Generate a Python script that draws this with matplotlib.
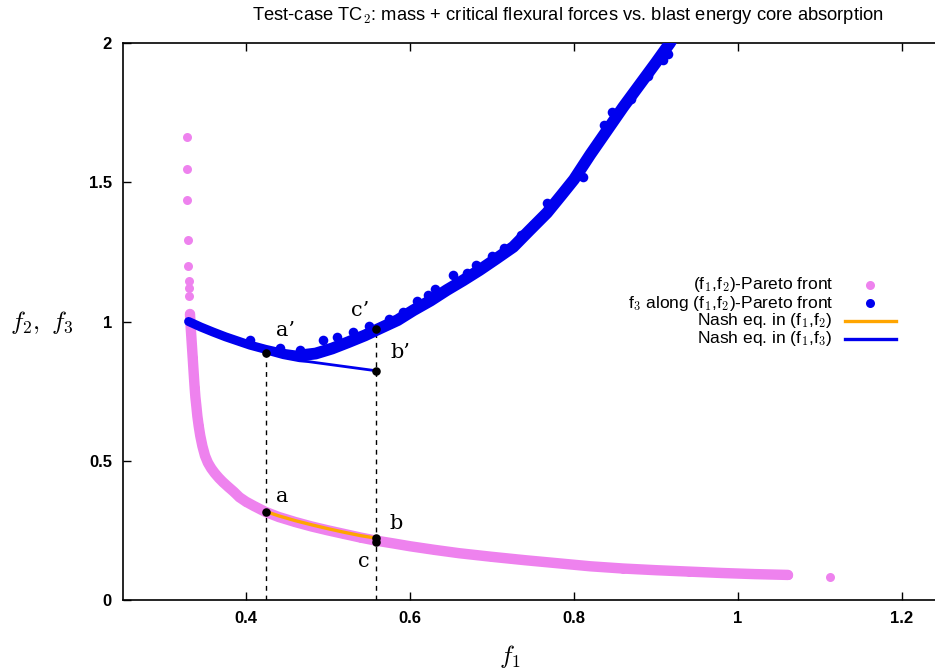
import matplotlib
matplotlib.use("Agg")
import matplotlib.pyplot as plt

plt.rcParams['mathtext.fontset'] = 'cm'
SANS = ['Liberation Sans', 'DejaVu Sans']

# ---------------- data ----------------
# (f1, f2)-Pareto front
pareto_f1 = [0.3277, 0.3280, 0.3284, 0.3290, 0.3296, 0.3300, 0.3305, 0.3310,
             0.3317, 0.3326, 0.3334, 0.3342, 0.3350, 0.3358, 0.3366, 0.3374,
             0.3383, 0.3395, 0.3407, 0.3423, 0.3442, 0.3468, 0.3500, 0.3535,
             0.3575, 0.362, 0.367, 0.372, 0.378, 0.385, 0.392, 0.400, 0.410,
             0.424, 0.440, 0.460, 0.480, 0.500, 0.520, 0.540, 0.559, 0.580,
             0.600, 0.630, 0.660, 0.700, 0.740, 0.780, 0.820, 0.860, 0.900,
             0.940, 0.980, 1.020, 1.061, 1.112]
pareto_f2 = [1.662, 1.548, 1.436, 1.291, 1.198, 1.147, 1.120, 1.090,
             1.027, 0.978, 0.942, 0.906, 0.870, 0.833, 0.797, 0.762,
             0.728, 0.695, 0.660, 0.625, 0.590, 0.553, 0.518, 0.493,
             0.473, 0.455, 0.438, 0.423, 0.407, 0.389, 0.369, 0.353, 0.337,
             0.316, 0.298, 0.280, 0.264, 0.250, 0.237, 0.224, 0.213, 0.203,
             0.193, 0.180, 0.168, 0.155, 0.143, 0.132, 0.121, 0.113, 0.107,
             0.102, 0.097, 0.093, 0.090, 0.084]

# f3 along (f1, f2)-Pareto front (band centre)
f3_f1 = [0.330, 0.345, 0.360, 0.375, 0.390, 0.405, 0.424, 0.445, 0.465,
         0.485, 0.505, 0.525, 0.545, 0.563, 0.585, 0.604, 0.625, 0.645,
         0.665, 0.685, 0.705, 0.726, 0.745, 0.767, 0.785, 0.800, 0.820,
         0.840, 0.860, 0.880, 0.900, 0.917, 0.925]
f3_val = [1.000, 0.980, 0.962, 0.945, 0.930, 0.915, 0.900, 0.886, 0.878,
          0.885, 0.903, 0.926, 0.950, 0.975, 1.005, 1.040, 1.075, 1.113,
          1.148, 1.185, 1.225, 1.268, 1.325, 1.390, 1.455, 1.510, 1.600,
          1.685, 1.770, 1.850, 1.930, 2.000, 2.040]
# scattered f3 points off the band centre
f3_out_f1 = [0.405, 0.441, 0.466, 0.494, 0.511, 0.531, 0.550, 0.575, 0.592,
             0.608, 0.622, 0.630, 0.653, 0.669, 0.681, 0.700, 0.715, 0.735,
             0.750, 0.767, 0.790, 0.811, 0.828, 0.836, 0.846, 0.870, 0.890,
             0.909, 0.915]
f3_out_val = [0.934, 0.905, 0.898, 0.934, 0.945, 0.963, 0.985, 1.010, 1.035,
              1.075, 1.095, 1.116, 1.167, 1.173, 1.203, 1.235, 1.265, 1.310,
              1.345, 1.427, 1.480, 1.520, 1.640, 1.706, 1.753, 1.800, 1.880,
              1.940, 1.960]

# Nash equilibria paths
nash12_f1 = [0.424, 0.440, 0.460, 0.480, 0.500, 0.520, 0.540, 0.559]
nash12_f2 = [0.318, 0.302, 0.285, 0.270, 0.256, 0.243, 0.231, 0.222]
nash13_f1 = [0.424, 0.445, 0.465, 0.476, 0.559]
nash13_f3 = [0.887, 0.870, 0.859, 0.856, 0.823]

# marked points
pt_names = ["a", "b", "c", "a’", "b’", "c’"]
pt_f1 = [0.424, 0.559, 0.559, 0.424, 0.559, 0.559]
pt_f = [0.316, 0.222, 0.207, 0.887, 0.823, 0.973]
lbl_f1 = [0.444, 0.583, 0.544, 0.448, 0.588, 0.539]
lbl_f = [0.370, 0.273, 0.140, 0.966, 0.890, 1.038]

xticks = [0.4, 0.6, 0.8, 1.0, 1.2]
xtick_labels = ["0.4", "0.6", "0.8", "1", "1.2"]
yticks = [0, 0.5, 1, 1.5, 2]
ytick_labels = ["0", "0.5", "1", "1.5", "2"]

legend_labels = [r"(f$_1$,f$_2$)-Pareto front",
                 r"f$_3$ along (f$_1$,f$_2$)-Pareto front",
                 r"Nash eq. in (f$_1$,f$_2$)",
                 r"Nash eq. in (f$_1$,f$_3$)"]

PINK = '#ee82ee'
BLUE = '#0000ee'
ORANGE = '#ffa500'

W, H = 935, 672
fig = plt.figure(figsize=(W / 100, H / 100), dpi=100)
ax = fig.add_axes([123 / W, 72 / H, 820 / W, 557 / H])
ax.set_xlim(0.25, 1.25)
ax.set_ylim(0, 2)

# pink front: continuous band + dots
dense = [(x, y) for x, y in zip(pareto_f1, pareto_f2) if y < 1.05 and x < 1.08]
ax.plot([p[0] for p in dense], [p[1] for p in dense], color=PINK, lw=7.5,
        solid_capstyle='round', solid_joinstyle='round', zorder=2)
ax.scatter(pareto_f1, pareto_f2, s=42, color=PINK, lw=0, zorder=2)

# orange Nash path
ax.plot(nash12_f1, nash12_f2, color=ORANGE, lw=2.4, zorder=3)

# dashed verticals
for i in (3, 5):
    ax.plot([pt_f1[i], pt_f1[i]], [0, pt_f[i]], color='black', lw=1.0,
            dashes=(3.5, 3.5), zorder=1)

# blue band
left = [(x, y) for x, y in zip(f3_f1, f3_val) if x <= 0.47]
right = [(x, y) for x, y in zip(f3_f1, f3_val) if x >= 0.465]
ax.plot([p[0] for p in left], [p[1] for p in left], color=BLUE, lw=6.5,
        solid_capstyle='round', solid_joinstyle='round', zorder=4)
ax.plot([p[0] for p in right], [p[1] for p in right], color=BLUE, lw=8.5,
        solid_capstyle='round', solid_joinstyle='round', zorder=4)
ax.scatter(f3_out_f1, f3_out_val, s=48, color=BLUE, lw=0, zorder=4)
ax.plot(nash13_f1, nash13_f3, color=BLUE, lw=2.0, zorder=5)

# marked points
ax.scatter(pt_f1, pt_f, s=38, color='black', lw=0, zorder=6)
for n, x, y in zip(pt_names, lbl_f1, lbl_f):
    ax.text(x, y, n, fontsize=15, family=['DejaVu Serif'], ha='center', va='center',
            zorder=7)

# axes styling
for s in ax.spines.values():
    s.set_linewidth(1.2)
ax.set_xticks(xticks)
ax.set_xticklabels(xtick_labels)
ax.set_yticks(yticks)
ax.set_yticklabels(ytick_labels)
ax.tick_params(direction='in', length=6, width=1, top=True, right=True,
               labelsize=12, pad=8)
for lab in ax.get_xticklabels() + ax.get_yticklabels():
    lab.set_family(SANS)
    lab.set_weight('bold')

# title and axis labels
fig.text(568 / W, 1 - 15 / H,
         r"Test-case TC$_2$: mass + critical flexural forces vs. blast energy core absorption",
         ha='center', va='center', fontsize=13.2, family=SANS)
fig.text(510 / W, 1 - 656 / H, r"$f_1$", ha='center', va='center', fontsize=18)
fig.text(42 / W, 1 - 322 / H, r"$f_2,\ f_3$", ha='center', va='center', fontsize=18)

# legend (manual, gnuplot style: right-aligned text, key on the right)
rows_y = [285, 303, 321, 339]
for i, (lab, yy) in enumerate(zip(legend_labels, rows_y)):
    fy = 1 - yy / H
    fig.text(833 / W, fy, lab, ha='right', va='center', fontsize=12.5, family=SANS)
    if i == 0:
        fig.lines.append(plt.Line2D([870 / W], [fy], marker='o', ms=6.5, color=PINK,
                                    mec='none', ls='none', transform=fig.transFigure))
    elif i == 1:
        fig.lines.append(plt.Line2D([870 / W], [fy], marker='o', ms=6.5, color=BLUE,
                                    mec='none', ls='none', transform=fig.transFigure))
    elif i == 2:
        fig.lines.append(plt.Line2D([845 / W, 896 / W], [fy, fy], color=ORANGE, lw=2.4,
                                    transform=fig.transFigure))
    else:
        fig.lines.append(plt.Line2D([845 / W, 896 / W], [fy, fy], color=BLUE, lw=2.4,
                                    transform=fig.transFigure))

fig.savefig("out.png", dpi=100)
